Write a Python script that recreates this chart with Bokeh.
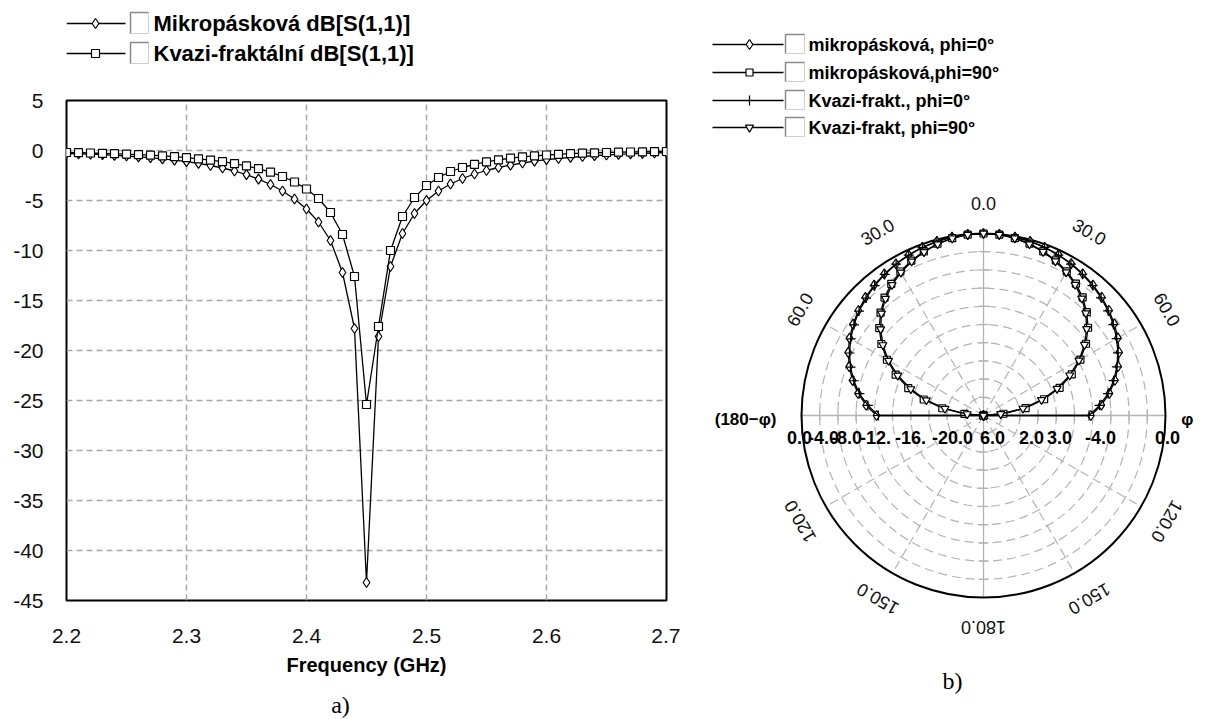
import math
from bokeh.plotting import figure
from bokeh.models import Range1d, FixedTicker, PrintfTickFormatter
from bokeh.layouts import row, column
from bokeh.embed import file_html
from bokeh.resources import INLINE
from bokeh.core.properties import value

FONT = "Liberation Sans"
SERIF = "Liberation Serif"

# ---------------- data: reflection coefficient ----------------
freq_ghz = [2.20, 2.21, 2.22, 2.23, 2.24, 2.25, 2.26, 2.27, 2.28, 2.29,
            2.30, 2.31, 2.32, 2.33, 2.34, 2.35, 2.36, 2.37, 2.38, 2.39,
            2.40, 2.41, 2.42, 2.43, 2.44, 2.45, 2.46, 2.47, 2.48, 2.49,
            2.50, 2.51, 2.52, 2.53, 2.54, 2.55, 2.56, 2.57, 2.58, 2.59,
            2.60, 2.61, 2.62, 2.63, 2.64, 2.65, 2.66, 2.67, 2.68, 2.69, 2.70]
s11_mikro = [-0.30, -0.33, -0.37, -0.42, -0.48, -0.55, -0.63, -0.72, -0.83, -0.96,
             -1.11, -1.29, -1.50, -1.75, -2.05, -2.42, -2.86, -3.40, -4.05, -4.85,
             -5.85, -7.15, -9.00, -12.2, -17.8, -43.2, -18.6, -11.6, -8.3, -6.3,
             -5.0, -4.05, -3.35, -2.80, -2.35, -2.00, -1.70, -1.46, -1.25, -1.07,
             -0.92, -0.80, -0.69, -0.60, -0.52, -0.45, -0.39, -0.34, -0.29, -0.25, -0.21]
s11_kvazi = [-0.20, -0.22, -0.25, -0.28, -0.32, -0.36, -0.41, -0.47, -0.54, -0.62,
             -0.72, -0.83, -0.96, -1.12, -1.31, -1.54, -1.82, -2.17, -2.60, -3.15,
             -3.85, -4.80, -6.20, -8.40, -12.6, -25.4, -17.6, -10.0, -6.6, -4.7,
             -3.5, -2.7, -2.1, -1.7, -1.38, -1.13, -0.93, -0.77, -0.64, -0.54,
             -0.45, -0.38, -0.32, -0.27, -0.23, -0.20, -0.17, -0.15, -0.13, -0.11, -0.10]
x_ticks = [2.2, 2.3, 2.4, 2.5, 2.6, 2.7]
y_ticks = [5, 0, -5, -10, -15, -20, -25, -30, -35, -40, -45]
s11_names = ["Mikropásková dB[S(1,1)]", "Kvazi-fraktální dB[S(1,1)]"]

# ---------------- data: radiation patterns (dB vs angle) ----------------
angles_deg = [0, 5, 10, 15, 20, 25, 30, 35, 40, 45, 50, 55, 60, 65, 70, 75, 80, 85, 90, 95]
mikro_phi0_right = [0.0, -0.02, -0.08, -0.18, -0.32, -0.50, -0.72, -0.98, -1.28, -1.62,
                    -2.00, -2.45, -2.95, -3.55, -4.25, -5.05, -5.95, -7.00, -8.20, -40.0]
mikro_phi0_left = [0.0, -0.02, -0.08, -0.19, -0.33, -0.52, -0.74, -1.00, -1.30, -1.65,
                   -2.05, -2.50, -3.00, -3.60, -4.30, -5.10, -6.00, -7.05, -8.25, -40.0]
mikro_phi90_right = [0.0, -0.05, -0.20, -0.45, -0.80, -1.20, -1.70, -2.30, -3.05, -3.95,
                     -5.00, -6.25, -7.70, -9.30, -11.1, -13.1, -15.3, -17.8, -20.5, -40.0]
mikro_phi90_left = [0.0, -0.05, -0.21, -0.46, -0.82, -1.22, -1.73, -2.33, -3.08, -4.00,
                    -5.05, -6.30, -7.75, -9.35, -11.2, -13.2, -15.4, -17.9, -20.6, -40.0]
kvazi_phi0_right = [0.0, -0.03, -0.10, -0.20, -0.35, -0.55, -0.78, -1.05, -1.36, -1.72,
                    -2.12, -2.58, -3.10, -3.70, -4.40, -5.20, -6.10, -7.20, -8.40, -40.0]
kvazi_phi0_left = [0.0, -0.03, -0.10, -0.21, -0.36, -0.56, -0.80, -1.07, -1.38, -1.75,
                   -2.15, -2.62, -3.15, -3.75, -4.45, -5.25, -6.15, -7.25, -8.45, -40.0]
kvazi_phi90_right = [0.0, -0.06, -0.22, -0.50, -0.86, -1.30, -1.82, -2.45, -3.20, -4.10,
                     -5.20, -6.45, -7.90, -9.55, -11.4, -13.4, -15.6, -18.1, -20.8, -40.0]
kvazi_phi90_left = [0.0, -0.06, -0.23, -0.51, -0.88, -1.32, -1.85, -2.48, -3.24, -4.14,
                    -5.25, -6.50, -7.95, -9.60, -11.5, -13.5, -15.7, -18.2, -20.9, -40.0]
pattern_names = ["mikropásková, phi=0°", "mikropásková,phi=90°",
                 "Kvazi-frakt., phi=0°", "Kvazi-frakt, phi=90°"]
radial_min_db = -20.0
radial_ring_step_db = 2.0
angle_label_deg = [0, 30, 60, 120, 150, 180, -30, -60, -120, -150]
angle_label_text = ["0.0", "30.0", "60.0", "120.0", "150.0", "180.0",
                    "30.0", "60.0", "120.0", "150.0"]
radial_label_text = ["0.0", "-4.0", "-8.0", "-12.", "-16.", "-20.0",
                     "6.0", "2.0", "3.0", "-4.0", "0.0"]
radial_label_px = [-184, -160, -137, -108, -73, -31, 9, 48, 76, 117, 184]

# ---------------- layout constants (page pixels) ----------------
W1 = 680                   # width of the left column
FL, FR = 66, 666           # left chart frame, x
FT, FB = 100, 600          # left chart frame, y
H0 = 70                    # legend strip height
H3 = 30                    # strip holding "a)"
H1 = 718 - H0 - H3         # left chart canvas height


def bare(fig):
    fig.outline_line_color = None
    fig.xgrid.visible = False
    fig.ygrid.visible = False
    fig.background_fill_color = "white"
    fig.border_fill_color = "white"


def strip(y_top, height):
    f = figure(width=W1, height=height, frame_width=FR - FL, frame_height=height, title=None,
               x_range=Range1d(FL, FR), y_range=Range1d(y_top + height, y_top),
               output_backend="svg", toolbar_location=None,
               min_border_left=FL, min_border_right=W1 - FR, min_border_top=0,
               min_border_bottom=0, x_axis_type=None, y_axis_type=None)
    bare(f)
    return f


# ======================= left legend strip =======================
p0 = strip(0, H0)
leg_y = [23, 53]
p0.segment(x0=[FL, FL], y0=leg_y, x1=[125, 125], y1=leg_y, line_color="black", line_width=1.3)
p0.scatter(x=[95], y=[leg_y[0]], marker="diamond", size=10, fill_color="white",
           line_color="black", line_width=1.2)
p0.scatter(x=[95], y=[leg_y[1]], marker="square", size=8, fill_color="white",
           line_color="black", line_width=1.2)
p0.quad(left=[130, 130], right=[148, 148], top=[y - 11 for y in leg_y],
        bottom=[y + 10 for y in leg_y], fill_color="white", line_color="#d4d0c8", line_width=1)
p0.multi_line(xs=[[130, 130, 148], [130, 130, 148]],
              ys=[[leg_y[0] + 10, leg_y[0] - 11, leg_y[0] - 11],
                  [leg_y[1] + 10, leg_y[1] - 11, leg_y[1] - 11]],
              line_color="#8a8a8a", line_width=1.5)
p0.text(x=[153, 153], y=leg_y, text=s11_names, text_font=value(FONT),
        text_font_style="bold", text_font_size=value("22px"), text_color="black",
        text_align="left", text_baseline="middle")

# ======================= left chart =======================
p1 = figure(width=W1, height=H1, title=None, x_range=Range1d(2.2, 2.7), y_range=Range1d(-45, 5),
            output_backend="svg", toolbar_location=None,
            min_border_left=FL, min_border_right=W1 - FR, min_border_top=FT - H0,
            min_border_bottom=H0 + H1 - FB)
p1.outline_line_color = "black"
p1.outline_line_width = 2
for ax in (p1.xaxis[0], p1.yaxis[0]):
    ax.axis_line_color = None
    ax.major_tick_line_color = None
    ax.minor_tick_line_color = None
    ax.major_label_text_font = FONT
    ax.major_label_text_font_size = "21px"
    ax.major_label_text_color = "#111111"
p1.xaxis.ticker = FixedTicker(ticks=x_ticks)
p1.yaxis.ticker = FixedTicker(ticks=y_ticks)
p1.xaxis.formatter = PrintfTickFormatter(format="%.1f")
p1.yaxis.formatter = PrintfTickFormatter(format="%d")
p1.xaxis.major_label_standoff = 22
p1.yaxis.major_label_standoff = 17
p1.xaxis.axis_label = "Frequency (GHz)"
p1.xaxis.axis_label_text_font = FONT
p1.xaxis.axis_label_text_font_style = "bold"
p1.xaxis.axis_label_text_font_size = "20px"
p1.xaxis.axis_label_text_color = "black"
p1.xaxis.axis_label_standoff = 8
p1.xgrid.ticker = FixedTicker(ticks=x_ticks)
p1.ygrid.ticker = FixedTicker(ticks=y_ticks)
for g in (p1.xgrid[0], p1.ygrid[0]):
    g.grid_line_color = "#a8a8a8"
    g.grid_line_dash = "6 4"
    g.grid_line_width = 1.5

p1.line(freq_ghz, s11_mikro, line_color="black", line_width=1.3)
p1.scatter(freq_ghz, s11_mikro, marker="diamond", size=10, fill_color="white",
           line_color="black", line_width=1.2)
p1.line(freq_ghz, s11_kvazi, line_color="black", line_width=1.3)
p1.scatter(freq_ghz, s11_kvazi, marker="square", size=8, fill_color="white",
           line_color="black", line_width=1.2)

# ======================= "a)" strip =======================
p3 = strip(H0 + H1, H3)
p3.text(x=[340], y=[704], text=["a)"], text_font=value(SERIF), text_font_size=value("24px"),
        text_color="black", text_align="center", text_baseline="middle")

# ======================= right chart (polar) =======================
PAGE_X0 = W1                       # where this canvas starts on the page
W2, H2 = 520, 718
CX, CY = 983, 415                  # polar centre on the page
R = 182.0                          # radius of the 0 dB circle in px
p2 = figure(width=W2, height=H2, frame_width=W2, frame_height=H2, title=None,
            x_range=Range1d(PAGE_X0 - CX, PAGE_X0 + W2 - CX),
            y_range=Range1d(CY - H2, CY),
            output_backend="svg", toolbar_location=None,
            min_border=0, x_axis_type=None, y_axis_type=None)
bare(p2)


def px(X):
    return X - CX


def py(Y):
    return CY - Y


def rad_px(db):
    db = max(db, radial_min_db)
    return R * (db - radial_min_db) / (-radial_min_db)


grid_col = "#b4b4b4"
n_rings = int(round(-radial_min_db / radial_ring_step_db))
ring_r = [R * k / n_rings for k in range(1, n_rings)]
p2.circle(x=[0] * len(ring_r), y=[0] * len(ring_r), radius=ring_r, fill_color=None,
          line_color=grid_col, line_dash="9 5", line_width=1.2)
spoke_deg = [30, 60, 120, 150, -30, -60, -120, -150]
p2.segment(x0=[0] * len(spoke_deg), y0=[0] * len(spoke_deg),
           x1=[R * math.sin(math.radians(a)) for a in spoke_deg],
           y1=[R * math.cos(math.radians(a)) for a in spoke_deg],
           line_color=grid_col, line_dash="9 5", line_width=1.2)
p2.segment(x0=[-R, 0], y0=[0, -R], x1=[R, 0], y1=[0, R], line_color=grid_col, line_width=1.3)
tick_r = [s * r for r in ring_r for s in (1, -1)]
p2.segment(x0=tick_r, y0=[-5] * len(tick_r), x1=tick_r, y1=[5] * len(tick_r),
           line_color=grid_col, line_width=1.3)
p2.segment(x0=[-5] * len(tick_r), y0=tick_r, x1=[5] * len(tick_r), y1=tick_r,
           line_color=grid_col, line_width=1.3)
p2.circle(x=[0], y=[0], radius=[R], fill_color=None, line_color="black", line_width=2)

series = [(mikro_phi0_left, mikro_phi0_right, "diamond", 10),
          (mikro_phi90_left, mikro_phi90_right, "square", 7),
          (kvazi_phi0_left, kvazi_phi0_right, "cross", 10),
          (kvazi_phi90_left, kvazi_phi90_right, "inverted_triangle", 8)]
for left, right, mk, sz in series:
    th = [-a for a in angles_deg[::-1]] + angles_deg[1:]
    db = left[::-1] + right[1:]
    xs = [rad_px(d) * math.sin(math.radians(t)) for t, d in zip(th, db)]
    ys = [rad_px(d) * math.cos(math.radians(t)) for t, d in zip(th, db)]
    p2.line(xs, ys, line_color="black", line_width=1.3)
    p2.scatter(xs, ys, marker=mk, size=sz, fill_color="white", line_color="black",
               line_width=1.2)

# legend of the polar chart (drawn by hand, page coordinates)
row_y = [44, 72, 100, 127]
p2.segment(x0=[px(712)] * 4, x1=[px(783)] * 4, y0=[py(y) for y in row_y],
           y1=[py(y) for y in row_y], line_color="black", line_width=1.3)
for (left, right, mk, sz), y in zip(series, row_y):
    p2.scatter(x=[px(749)], y=[py(y)], marker=mk, size=sz, fill_color="white",
               line_color="black", line_width=1.2)
p2.quad(left=[px(785)] * 4, right=[px(804)] * 4, top=[py(y - 10) for y in row_y],
        bottom=[py(y + 9) for y in row_y], fill_color="white", line_color="#d4d0c8",
        line_width=1)
p2.multi_line(xs=[[px(785), px(785), px(804)] for _ in row_y],
              ys=[[py(y + 9), py(y - 10), py(y - 10)] for y in row_y],
              line_color="#8a8a8a", line_width=1.5)
p2.text(x=[px(808)] * 4, y=[py(y) for y in row_y], text=pattern_names,
        text_font=value(FONT), text_font_style="bold", text_font_size=value("18px"),
        text_color="black", text_align="left", text_baseline="middle")

# angle labels
LR = 212
p2.text(x=[LR * math.sin(math.radians(a)) for a in angle_label_deg],
        y=[LR * math.cos(math.radians(a)) for a in angle_label_deg],
        text=angle_label_text, angle=[-math.radians(a) for a in angle_label_deg],
        text_font=value(FONT), text_font_size=value("18px"), text_color="#111111",
        text_align="center", text_baseline="middle")
# radial labels along the horizontal axis
p2.text(x=radial_label_px, y=[-22] * len(radial_label_px), text=radial_label_text,
        text_font=value(FONT), text_font_style="bold", text_font_size=value("18px"),
        text_color="black", text_align="center", text_baseline="middle")
p2.text(x=[px(776), px(1193)], y=[py(419), py(419)], text=["(180−φ)", "φ"],
        text_font=value(FONT), text_font_style="bold", text_font_size=value("17px"),
        text_color="black", text_align="right", text_baseline="middle")
p2.text(x=[px(952)], y=[py(680)], text=["b)"], text_font=value(SERIF),
        text_font_size=value("24px"), text_color="black", text_align="center",
        text_baseline="middle")

layout = row(column(p0, p1, p3), p2)
with open("out.html", "w") as f:
    f.write(file_html(layout, INLINE))
